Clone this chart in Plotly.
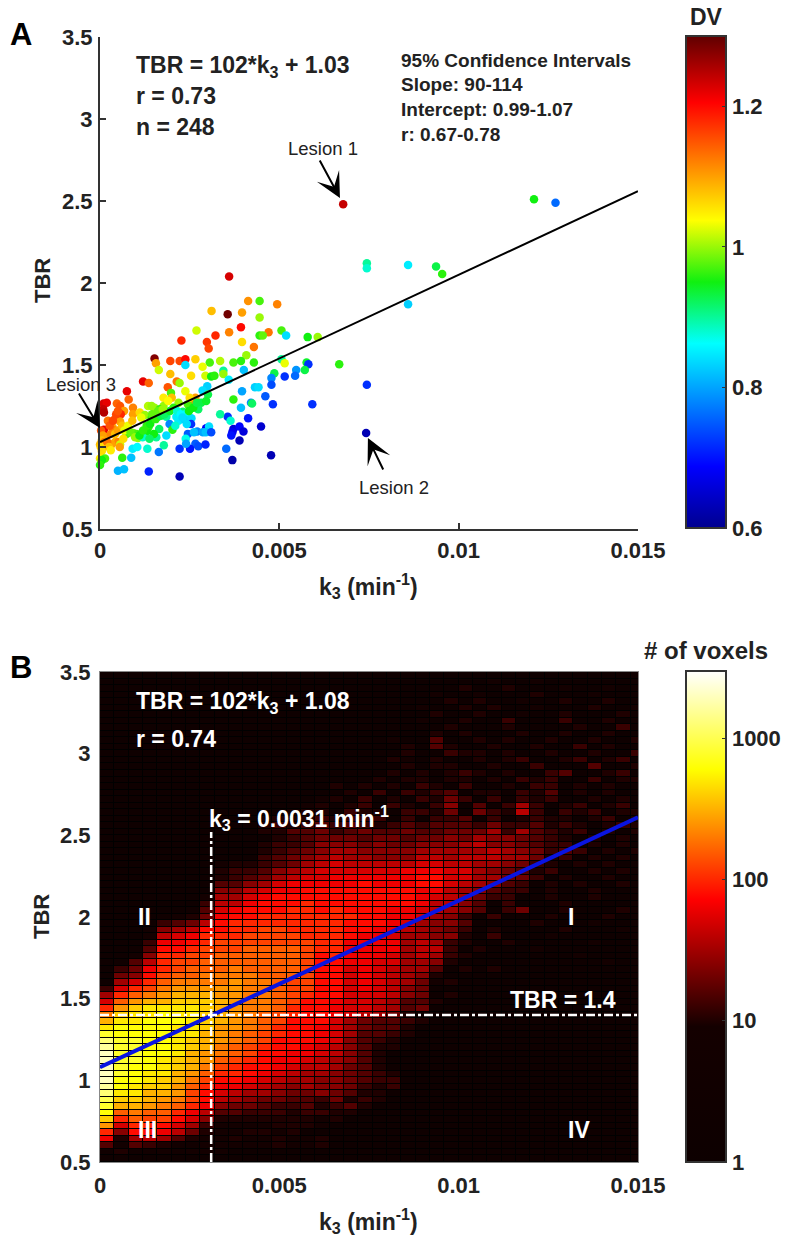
import plotly.graph_objects as go

W, H = 788, 1242
FONT = "Liberation Sans"
INK = "#222222"

# ---------- Panel A data (k3 in 1/1000 min^-1, TBR, DV) ----------
K3_MILLI = [3.60,4.13,4.45,4.94,3.11,3.56,3.96,4.45,2.69,3.60,3.93,4.70,5.06,3.22,5.19,4.45,4.54,5.79,6.07,2.27,
 2.98,3.96,3.03,4.29,4.08,1.52,1.56,1.96,2.22,2.38,2.66,3.06,3.35,3.72,3.93,4.29,5.06,5.15,5.76,5.81,
 6.67,1.64,2.38,2.86,3.44,3.44,1.96,2.54,2.94,3.10,3.19,4.01,4.86,4.78,5.15,5.47,5.44,5.71,3.59,1.20,
 1.36,2.14,2.22,4.78,2.99,2.86,1.89,4.32,4.42,0.75,1.98,2.38,3.96,3.01,2.66,1.77,0.80,4.61,3.72,2.19,
 0.10,0.19,0.47,0.56,0.92,1.34,1.44,1.52,1.77,2.57,2.45,2.82,2.96,2.74,4.21,4.24,4.82,5.92,3.93,0.09,
 0.11,0.67,0.58,0.92,1.11,1.25,1.67,1.85,2.13,2.31,2.41,3.56,4.13,0.22,0.42,0.56,1.44,1.62,2.19,2.37,
 2.55,3.64,0.35,0.60,0.06,0.11,0.37,1.35,1.30,1.65,1.94,2.54,2.02,2.96,3.04,3.72,3.89,4.49,2.71,2.87,
 2.45,4.00,3.69,3.66,0.74,0.93,1.02,1.06,1.57,1.19,1.85,2.39,3.89,0.42,0.51,0.00,0.32,0.56,1.78,2.66,
 2.74,2.94,0.91,1.04,1.32,1.64,2.22,2.51,3.52,0.05,0.00,0.62,0.87,4.77,3.69,0.14,0.05,0.00,0.50,0.67,
 1.36,2.22,6.78,7.44,7.44,8.59,8.59,9.37,9.54,12.1,12.7,7.44,7.42,
 0.03,0.08,0.16,0.05,0.12,0.02,0.10,0.20,0.30,0.42,0.50,0.27,0.36,0.45,0.50,0.62,0.68,0.85,0.98,1.10,
 1.20,1.30,1.40,1.55,1.70,1.80,1.95,2.05,2.15,2.25,2.30,2.42,2.48,2.60,2.70,1.62,1.75,2.10,1.15,1.45,
 2.95,2.62,1.50,0.78,0.90,2.00,1.90,2.50,0.65,0.25,2.40,3.10,1.38,0.55,0.30,3.35]
TBR_A = [2.04,1.89,1.89,1.87,1.83,1.81,1.82,1.79,1.71,1.70,1.73,1.70,1.71,1.68,1.68,1.68,1.68,1.67,1.67,1.65,
 1.64,1.64,1.60,1.61,1.56,1.54,1.51,1.525,1.525,1.535,1.535,1.515,1.525,1.515,1.525,1.515,1.535,1.51,1.515,1.505,
 1.505,1.47,1.50,1.49,1.465,1.445,1.445,1.435,1.435,1.43,1.435,1.47,1.45,1.42,1.43,1.47,1.435,1.47,1.41,1.40,
 1.39,1.40,1.39,1.38,1.37,1.345,1.365,1.365,1.365,1.34,1.33,1.34,1.34,1.32,1.30,1.30,1.29,1.31,1.29,1.27,
 1.265,1.27,1.265,1.25,1.24,1.25,1.25,1.24,1.25,1.27,1.26,1.27,1.28,1.23,1.27,1.265,1.26,1.26,1.24,1.23,
 1.21,1.22,1.20,1.20,1.21,1.195,1.23,1.185,1.185,1.215,1.205,1.185,1.175,1.16,1.17,1.155,1.175,1.185,1.16,1.165,
 1.175,1.16,1.12,1.11,1.085,1.105,1.105,1.12,1.095,1.11,1.14,1.14,1.105,1.115,1.125,1.11,1.125,1.125,1.095,1.09,
 1.08,1.095,1.09,1.07,1.08,1.085,1.08,1.055,1.06,1.06,1.07,1.05,1.04,1.03,1.03,1.015,1.015,1.015,1.01,1.02,
 1.005,1.015,0.99,1.00,0.99,0.97,0.99,0.99,0.99,0.975,0.93,0.935,0.935,0.95,0.92,0.93,0.92,0.89,0.855,0.865,
 0.85,0.82,2.48,2.12,2.09,2.11,1.87,2.10,2.055,2.51,2.49,1.38,1.085,
 1.10,1.07,1.06,1.04,1.03,1.00,1.00,1.03,1.08,1.08,1.10,1.13,1.16,1.20,1.22,1.13,1.10,1.09,1.06,1.07,
 1.10,1.13,1.14,1.17,1.19,1.20,1.22,1.24,1.22,1.20,1.18,1.14,1.22,1.24,1.27,1.22,1.23,1.13,1.18,1.20,
 1.09,1.09,1.08,1.13,1.16,1.30,1.28,1.30,1.05,1.00,1.02,1.09,1.05,1.00,0.98,1.20]
DV = [1.23,1.11,.97,1.12,1.08,1.29,1.10,1.00,1.02,1.12,1.20,1.13,.97,1.18,.84,.96,.98,.95,1.00,1.18,
 1.17,1.06,1.16,1.13,1.00,1.28,1.10,1.16,1.16,1.20,1.07,.97,1.01,.97,.96,.96,.90,1.03,.94,.72,
 .96,1.02,.84,1.03,.90,1.00,1.08,1.06,1.02,.95,.96,.82,.93,.78,.72,.79,.76,.93,.85,1.22,
 1.14,1.13,1.00,.74,.83,.84,1.15,.83,.84,1.22,.97,1.03,.80,.93,1.10,1.05,1.14,.75,.96,1.00,
 1.23,1.22,1.14,1.15,1.12,1.01,1.00,1.00,1.00,1.12,.97,.93,.94,.92,.78,.92,.72,.72,.82,1.24,
 1.25,1.10,1.18,1.10,1.06,1.00,.96,.90,.85,.92,.87,.72,.70,1.13,1.14,1.10,.96,.93,.85,.83,
 .84,.88,1.09,1.07,1.20,1.22,1.12,.96,.95,.92,.78,.72,.96,.68,.84,.66,.69,.65,.78,.80,
 .75,.66,.68,.70,.97,.99,.97,1.00,.90,.88,.84,.87,.63,1.09,1.12,1.08,1.10,1.02,.90,.75,
 .74,.71,.85,.86,.88,.77,.72,.70,.76,1.06,1.05,.96,.82,.63,.62,.97,.95,.96,.81,.82,
 .71,.63,1.24,.90,.88,.85,.83,.93,.96,.95,.76,.72,.63,
 1.15,1.10,1.10,1.08,1.12,1.07,1.06,1.13,1.12,1.08,1.10,1.15,1.16,1.16,1.15,1.08,1.03,.98,1.00,.95,
 .96,.96,.95,.96,.93,.92,.94,.96,.88,.86,.84,.84,.95,.95,.93,.98,1.00,.88,1.03,.98,
 .82,.82,.95,1.03,1.08,1.08,1.04,1.06,1.06,1.08,.80,.74,.92,1.10,1.05,.90]
FIT_A_X = [0, 0.015]
FIT_A_Y = [1.03, 2.56]

# ---------- Panel B data ----------
FIT_B_X = [0, 0.015]
FIT_B_Y = [1.08, 2.61]
K3_CUT = 0.0031
K3_CUT_TOP = 2.52
TBR_CUT = 1.4
N_COLS = 38
BG = 3
# counts per cell as 10*log10(voxels), one row per TBR bin from the top (3.48) down (0.52)
LOG_COUNTS_TOP_DOWN = [
[],
[3]*27+[9,3,3,9],
[3]*25+[10,3,3,10,3,3,3,9,3,3,9],
[3]*23+[9,3,3,9,3,3,3,10,3,3,3,9],
[3]*24+[10,3,10,3,3,9,3,3,10,3,3,10],
[3]*22+[9,3,3,10,3,10,3,3,9,3,3,3,10,3,3,9],
[3]*23+[10,3,3,10,3,3,9,3,3,10,3,3,3,10],
[3]*22+[9,3,3,10,3,3,11,3,3,3,11,3,3,10],
[3]*24+[10,3,3,3,10,3,3,3,3,10,3,3,11],
[3]*23+[10,3,10,3,3,3,10,3,3,10,3,3,10],
[3]*20+[9,3,3,12,3,3,10,3,10,3,3,10,3,3,10,3,3,10],
[3]*21+[10,3,12,10,3,3,10,3,3,10,3,3,11,3,10],
[3]*20+[3,10,3,3,11,10,10,3,10,3,3,10,3,3,10,3,3,11],
[3]*20+[10,9,3,10,3,3,10,3,10,11,3,3,10,11,3,10,11],
[3]*20+[3,10,3,10,10,3,3,10,3,3,11,3,3,3,12,3,3,10],
[3]*20+[10,3,10,3,10,11,10,3,10,3,3,11,12,3,3,10,11],
[3]*18+[3,10,3,10,10,3,10,10,3,10,3,11,10,11,3,3,11,3,10,10],
[3]*16+[10,3,10,3,10,3,11,10,3,11,3,3,10,3,11,11,3,10,3,10],
[3]*16+[3,10,3,11,3,11,10,11,12,3,10,10,3,11,10,12,3,10,3,10],
[3]*15+[9,10,3,11,3,10,3,11,10,13,11,3,11,3,11,10,11,3,3,10,3,10],
[3]*14+[9,10,3,10,11,3,11,10,3,11,14,3,12,3,11,15,11,3,10,11,3,10,11,3],
[3]*13+[9,10,10,3,11,10,10,3,11,11,10,13,3,13,11,10,16,11,3,11,10,11,3,10,10],
[3]*11+[9,10,9,10,11,10,11,11,11,3,11,3,11,11,12,3,11,3,10,11,10,10,3,10,11,3,10],
[3]*11+[10,11,10,11,12,11,12,11,10,11,12,11,12,12,12,11,13,11,11,12,10,11,10,3,10,11,10],
[3]*11+[10,10,12,12,13,11,12,13,12,12,13,12,12,13,13,13,15,11,15,12,11,10,11,3,10,3,10],
[3]*12+[10,11,12,13,13,13,12,13,13,12,13,13,14,13,15,14,14,13,12,11,10,3,10,3,10,3],
[3]*11+[10,11,11,12,14,14,14,13,14,13,13,14,14,14,15,16,14,14,13,12,11,11,3,10,3,10,3],
[3]*11+[10,11,12,13,14,15,15,14,14,14,14,15,15,15,15,15,16,15,14,13,11,12,11,3,10,3,10],
[3]*11+[11,12,13,14,15,16,15,15,14,14,14,16,16,15,16,16,16,15,15,13,10,11,3,10,3,10,3],
[3]*8+[9,10,10,11,12,13,15,16,17,16,16,16,16,16,17,17,16,16,15,15,14,13,11,10,3,10,3,10],
[3]*8+[10,11,11,12,14,15,16,17,17,17,17,17,17,18,18,18,17,17,15,14,13,12,10,11,3,3,10,3,10],
[3]*8+[10,11,12,13,15,16,17,17,18,18,18,18,18,18,19,19,17,17,15,15,13,13,11,3,10,3,3,10],
[3]*8+[12,12,14,15,17,18,18,18,18,18,19,18,18,18,19,19,17,16,15,14,12,11,3,10,3,10,3,3,10],
[3]*8+[14,14,16,17,18,18,19,19,19,19,19,19,19,19,18,18,16,15,14,12,11,11,3,10,3,3,10],
[3]*7+[9,15,15,17,18,19,19,19,19,19,19,19,19,19,19,18,17,16,15,13,11,11,3,3,10,3,3,10],
[3]*7+[11,16,16,18,19,19,19,20,19,19,19,19,19,19,19,18,16,16,14,12,3,11,3,3,3,10],
[3]*6+[5,12,17,18,19,19,19,20,20,19,20,19,19,19,18,18,17,16,15,14,12,3,11,13,3,3,10,3,3,3,10],
[3,3,3,3,5,9,10,13,18,19,19,20,20,20,20,20,20,20,19,19,18,18,17,15,14,11,3,11,3,3,3,10,3,3,3,10],
[3,3,3,4,11,12,13,16,19,20,20,20,20,20,20,20,20,19,19,19,18,17,15,14,14,12,3,3,3,3,10,3,3,3,9],
[3,3,3,8,14,15,16,19,19,20,20,21,21,20,20,20,20,19,19,18,18,16,15,14,13,11,3,10,3,3,3,3,10,3,3,3,9],
[3,3,3,9,16,17,18,20,20,20,21,21,21,21,20,20,20,19,18,18,17,15,15,14,14,10,3,11,3,3,3,9],
[3,3,3,11,18,18,19,20,21,21,21,21,21,21,21,20,20,18,18,18,18,15,16,15,11,10,3,3,10,3,3,3,3,3,9],
[3,3,4,12,19,19,20,21,21,21,22,22,22,22,21,20,20,18,18,18,18,15,16,16,11,3,10,3,3,3,9],
[3,3,9,14,20,20,21,21,22,22,22,22,22,22,21,19,20,18,18,18,17,15,16,15,11,10,3,3,3,3,3,3,3,9],
[3,6,12,16,20,21,21,22,22,22,22,22,22,22,21,19,19,18,18,17,17,15,15,14,10,3,3,3,3,3,3,3,3,3,3,9],
[3,11,13,18,20,21,22,22,22,23,22,22,22,22,21,19,19,17,18,17,16,15,15,12,3,10,3,10],
[3,13,14,19,21,22,22,23,23,23,23,22,22,22,21,19,19,17,18,17,16,15,14,10],
[3,15,17,20,22,23,23,23,23,24,23,23,22,21,21,19,19,17,18,17,16,15,13,9,10],
[11,17,20,21,23,24,24,24,24,24,23,23,22,21,21,19,19,17,18,17,16,14,13],
[15,20,22,23,24,25,25,25,24,24,23,23,22,21,20,19,19,17,17,17,16,14,13,3,10],
[17,22,24,25,25,26,26,26,25,24,23,23,22,21,19,19,18,17,17,16,15,12,12,10],
[20,24,26,27,27,27,27,26,25,24,23,23,22,20,19,19,18,17,17,16,15,12,13],
[23,26,27,27,28,27,27,26,25,24,23,22,21,20,19,19,18,17,16,15,13,10],
[25,27,27,28,28,28,27,26,25,24,23,22,21,19,19,19,17,15,13,12,12,11,10],
[27,28,28,28,28,27,27,26,24,24,23,22,20,19,19,18,17,15,13,12,12,10],
[29,28,28,28,28,27,27,25,24,23,22,21,20,19,19,18,17,15,12,12,11,10],
[31,29,29,28,28,27,26,25,24,23,22,21,19,19,19,18,17,14,12,11,10],
[32,29,29,28,28,27,26,25,23,22,21,20,19,19,18,17,16,14,12,10,10],
[33,29,29,28,28,27,25,24,23,22,21,19,19,18,18,17,16,14,12,10],
[33,29,29,28,27,26,25,24,22,21,20,19,18,18,17,16,15,14,12,10],
[33,29,28,28,27,26,25,23,21,20,19,19,18,17,16,16,15,13,12,10],
[33,29,28,27,27,25,24,22,20,20,19,18,17,16,15,15,14,13,12,11,10],
[33,28,28,27,26,25,23,21,19,19,18,17,16,15,15,14,14,13,12,11,11],
[32,28,27,26,26,24,22,20,18,18,17,16,15,14,15,14,14,13,11,10,11],
[31,27,27,25,25,24,21,19,17,16,15,15,14,13,13,14,13,12,10,10],
[30,26,26,25,24,23,21,19,16,15,14,13,13,12,12,11,13,10,11,10],
[29,25,25,24,23,22,20,18,14,13,13,12,11,11,12,10,11,12,10],
[28,22,23,22,22,20,18,16,12,12,11,11,11,10,11,11,10,10],
[26,20,22,21,21,19,17,14,10,10,10,10,10,10,10,9,10],
[24,17,20,20,19,17,15,11,9,9,9,9,10,10,10,9],
[20,14,19,19,18,16,13,10,9,9,10,10,9,10],
[18,10,15,16,15,12,10,9,9,10,9,9,10,9,9,10],
[12,8,12,11,10,8,7,9,9,9,9,9,10,9,9,10],
[6,10,5,7,9,7,9,9,9],
[4,6],
]
Z = [[v / 10 for v in (r + [BG] * (N_COLS - len(r)))] for r in reversed(LOG_COUNTS_TOP_DOWN)]

JET = [[0, "#00008f"], [0.125, "#0000ff"], [0.375, "#00ffff"], [0.5, "#10f010"], [0.625, "#ffff00"], [0.865, "#ff0000"], [1, "#600000"]]
ZMAX = 3.476
HOT = [[0, "#0d0000"], [0.276, "#140000"], [0.535, "#ff0000"], [0.80, "#ffff00"], [1, "#ffffff"]]

def fx(px): return px / W
def fy(py): return 1 - py / H

TF = dict(family=FONT, size=22, color=INK, weight="bold")

fig = go.Figure()
fig.add_trace(go.Scatter(
    x=[k / 1000 for k in K3_MILLI], y=TBR_A, mode="markers", cliponaxis=False, xaxis="x", yaxis="y",
    marker=dict(size=8.5, color=DV, cmin=0.6, cmax=1.3, colorscale=JET, line=dict(width=0),
        colorbar=dict(x=fx(686), xanchor="left", y=fy(528), yanchor="bottom", len=492 / H, thickness=40,
            xpad=0, ypad=0, outlinecolor="#333333", outlinewidth=2, tickvals=[0.6, 0.8, 1, 1.2],
            ticktext=["0.6", "0.8", "1", "1.2"], ticks="inside", ticklen=5, tickcolor="#333333",
            tickfont=TF))))
fig.add_trace(go.Scatter(x=FIT_A_X, y=FIT_A_Y, mode="lines", line=dict(color="black", width=2), xaxis="x", yaxis="y"))

fig.add_trace(go.Heatmap(
    z=Z, x0=0.0002, dx=0.0004, y0=0.52, dy=0.04, xaxis="x2", yaxis="y2", xgap=1, ygap=1,
    zmin=0, zmax=ZMAX, colorscale=HOT,
    colorbar=dict(x=fx(686), xanchor="left", y=fy(1162), yanchor="bottom", len=491 / H, thickness=40,
        xpad=0, ypad=0, outlinecolor="#333333", outlinewidth=2, tickvals=[0, 1, 2, 3],
        ticktext=["1", "10", "100", "1000"], ticks="inside", ticklen=5, tickcolor="#333333",
        tickfont=TF)))
fig.add_trace(go.Scatter(x=FIT_B_X, y=FIT_B_Y, mode="lines", line=dict(color="#0a14e0", width=4), xaxis="x2", yaxis="y2"))
fig.add_trace(go.Scatter(x=[0, 0.015], y=[TBR_CUT, TBR_CUT], mode="lines", xaxis="x2", yaxis="y2",
    line=dict(color="white", width=2.5, dash="9px,3px,3px,3px")))
fig.add_trace(go.Scatter(x=[K3_CUT, K3_CUT], y=[0.5, K3_CUT_TOP], mode="lines", xaxis="x2", yaxis="y2",
    line=dict(color="white", width=2.5, dash="9px,3px,3px,3px")))

XT = dict(tickvals=[0, 0.005, 0.01, 0.015], ticktext=["0", "0.005", "0.01", "0.015"], range=[0, 0.015])
YT = dict(tickvals=[0.5, 1, 1.5, 2, 2.5, 3, 3.5], ticktext=["0.5", "1", "1.5", "2", "2.5", "3", "3.5"], range=[0.5, 3.5])
fig.update_layout(
    width=W, height=H, margin=dict(l=0, r=0, t=0, b=0, autoexpand=False), paper_bgcolor="white", plot_bgcolor="white",
    showlegend=False,
    xaxis=dict(domain=[fx(100), fx(638)], anchor="y", showgrid=False, zeroline=False, showline=True, linecolor="#333333",
               linewidth=2, ticks="inside", ticklen=6, tickcolor="#333333", tickwidth=1.5, tickfont=TF, ticklabelstandoff=1, **XT),
    yaxis=dict(domain=[fy(529), fy(37)], anchor="x", showgrid=False, zeroline=False, showline=True, linecolor="#333333",
               linewidth=2, ticks="inside", ticklen=6, tickcolor="#333333", tickwidth=1.5, tickfont=TF, ticklabelstandoff=1, **YT),
    xaxis2=dict(domain=[fx(100), fx(638)], anchor="y2", showgrid=False, zeroline=False, showline=True, mirror=True, linecolor="#888888",
                linewidth=1, ticks="", tickfont=TF, ticklabelstandoff=4, **XT),
    yaxis2=dict(domain=[fy(1162), fy(672)], anchor="x2", showgrid=False, zeroline=False, showline=True, mirror=True, linecolor="#888888",
                linewidth=1, ticks="", tickfont=TF, ticklabelstandoff=4, **YT),
)
# black plot area for panel B
fig.add_shape(type="rect", xref="x2 domain", yref="y2 domain", x0=0, x1=1, y0=0, y1=1, fillcolor="black", line_width=0, layer="below")

def txt(px, py, s, size=23, color=INK, bold=True, anchor="left", angle=0):
    fig.add_annotation(xref="paper", yref="paper", x=fx(px), y=fy(py), text=f"<b>{s}</b>" if bold else s,
        showarrow=False, xanchor=anchor, yanchor="middle", textangle=angle,
        font=dict(family=FONT, size=size, color=color))

txt(21, 34, "A", size=31, anchor="center", color="black")
txt(21, 668, "B", size=31, anchor="center", color="black")
txt(42, 281, "TBR", size=22, anchor="center", angle=-90)
txt(42, 917, "TBR", size=22, anchor="center", angle=-90)
txt(368, 586, "k<sub>3</sub> (min<sup>-1</sup>)", anchor="center")
txt(368, 1221, "k<sub>3</sub> (min<sup>-1</sup>)", anchor="center")
txt(134, 66, "TBR = 102*k<sub>3</sub> + 1.03")
txt(134, 96, "r = 0.73")
txt(134, 127, "n = 248")
txt(399, 61, "95% Confidence Intervals", size=19)
txt(399, 85, "Slope: 90-114", size=19)
txt(399, 110, "Intercept: 0.99-1.07", size=19)
txt(399, 134, "r: 0.67-0.78", size=19)
txt(706, 17, "DV", anchor="center")
txt(706, 650, "# of voxels", size=24, anchor="center")
txt(323, 149, "Lesion 1", size=18.5, bold=False, anchor="center")
txt(394, 488, "Lesion 2", size=18.5, bold=False, anchor="center")
txt(81, 384, "Lesion 3", size=18.5, bold=False, anchor="center")
txt(134, 702, "TBR = 102*k<sub>3</sub> + 1.08", color="white")
txt(134, 739, "r = 0.74", color="white")
txt(207, 818, "k<sub>3</sub> = 0.0031 min<sup>-1</sup>", color="white")
txt(144, 917, "II", color="white", anchor="center")
txt(571, 917, "I", color="white", anchor="center")
txt(147, 1130, "III", color="white", anchor="center")
txt(579, 1130, "IV", color="white", anchor="center")
txt(508, 1000, "TBR = 1.4", color="white")

for tip_k, tip_t, ox, oy in [(0.00669, 2.518, -21, -39), (0.00747, 1.055, 16, 33), (0.0, 1.116, -22, -36)]:
    fig.add_annotation(xref="x", yref="y", x=tip_k, y=tip_t, ax=ox, ay=oy, text="", showarrow=True,
        arrowhead=3, arrowsize=2.1, arrowwidth=2, arrowcolor="black")

fig.write_html("out.html", config={"displayModeBar": False}, post_script="document.body.style.margin='0';")
